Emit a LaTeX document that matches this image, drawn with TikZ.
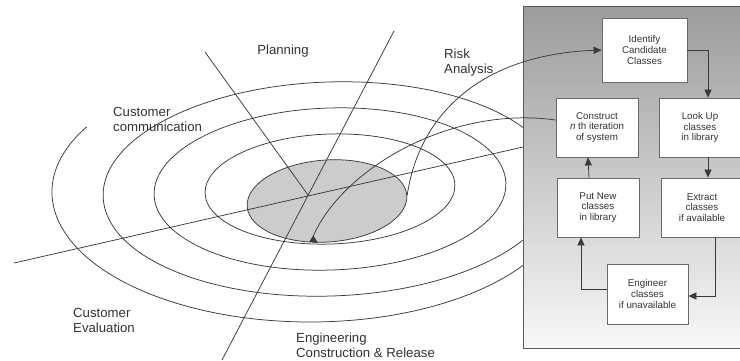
\documentclass[tikz,border=0pt]{standalone}
\usepackage{fontspec}
\setmainfont{Liberation Sans}
\usetikzlibrary{arrows.meta,shapes.geometric}
\definecolor{inkc}{HTML}{3A3A3A}
\definecolor{txtc}{HTML}{333333}
\definecolor{corefill}{HTML}{CCCCCC}
\definecolor{boxedge}{HTML}{6A6A6A}
\definecolor{paneltop}{HTML}{9C9C9C}
\definecolor{panelbot}{HTML}{F8F8F8}
\definecolor{paneledge}{HTML}{5A5A5A}
\begin{document}
\begin{tikzpicture}[x=1pt,y=-1pt,
  ln/.style={draw=inkc,line width=0.75pt},
  arr/.style={ln,-{Triangle[length=8pt,width=7pt]}},
  lbl/.style={font=\fontsize{13.2}{15}\selectfont,text=txtc,align=left,inner sep=0pt},
  stepbox/.style={draw=boxedge,line width=0.8pt,fill=white,align=center,inner sep=0pt,
    minimum width=82pt,minimum height=59pt,font=\fontsize{9.8}{10.8}\selectfont,text=txtc}]
\useasboundingbox (0,0) rectangle (740,360);
\fill[white] (0,0) rectangle (740,360);

% spiral turns
\begin{scope}[rotate around={2:(330,189)}]
  \draw[ln] (330,189) ellipse [x radius=125, y radius=55];
  \draw[ln] (330,189) ellipse [x radius=176, y radius=81];
  \draw[ln] (330,189) ellipse [x radius=227, y radius=107];
\end{scope}
\draw[ln] (310,192) ++(210:258 and 130)
  arc[start angle=210, end angle=20, x radius=258, y radius=130];

% quadrant axes through the hub
\coordinate (hub) at (308,195);
\coordinate (axP) at (205,52);
\coordinate (axT) at (394,31);
\coordinate (axB) at (222,360);
\coordinate (axL) at (14,263);
\coordinate (axR) at (523,147);

% inner core of the spiral
\node[ellipse, ln, fill=corefill, minimum width=160pt, minimum height=82pt,
  inner sep=0pt, rotate=4] (core) at (327,201) {};

\draw[ln] (axP) -- (hub);
\draw[ln] (axT) -- (axB);
\draw[ln] (axL) -- (axR);

% quadrant labels
\node[lbl] at (283,51) {Planning};
\node[lbl, anchor=west] at (444,63) {Risk\\Analysis};
\node[lbl, anchor=west] at (113,119.5) {Customer\\communication};
\node[lbl, anchor=west] at (73,320.5) {Customer\\Evaluation};
\node[lbl, anchor=west] at (296,345.5) {Engineering\\Construction \& Release};

% class-reuse panel
\shade[top color=paneltop, bottom color=panelbot] (523,6) rectangle (750,348);
\draw[draw=paneledge, line width=1pt] (523,6) rectangle (750,348);

\node[stepbox, minimum width=85pt, minimum height=64pt] (idf) at (644.5,50) {Identify\\Candidate\\Classes};
\node[stepbox] (con) at (597,127.5) {Construct\\\textit{n} th iteration\\of system};
\node[stepbox] (look) at (700,127.5) {Look Up\\classes\\in library};
\node[stepbox] (put) at (598,207.5) {Put New\\classes\\in library};
\node[stepbox] (ext) at (702,207.5) {Extract\\classes\\if available};
\node[stepbox, minimum width=81pt, minimum height=60pt] (eng) at (647.5,294) {Engineer\\classes\\if unavailable};

\draw[arr] (idf.east) -| ([xshift=8pt]look.north);
\draw[arr] ([xshift=8pt]look.south) -- ([xshift=6pt]ext.north);
\draw[arr] ([xshift=13pt]ext.south) |- ([yshift=-2pt]eng.east);
\draw[arr] ([yshift=5pt]eng.west) -| ([xshift=-17pt]put.south);
\draw[arr] ([xshift=-9pt]put.north) -- ([xshift=-9pt]con.south);

% links between the spiral and the panel
\coordinate (tip) at (318,243);
\draw[arr] (core.east) .. controls (418,120) and (475,55) .. (idf.west);
\draw[arr] ([yshift=7.5pt]con.west) .. controls (450,105) and (340,170) .. (312,239) -- (tip);
\end{tikzpicture}
\end{document}
